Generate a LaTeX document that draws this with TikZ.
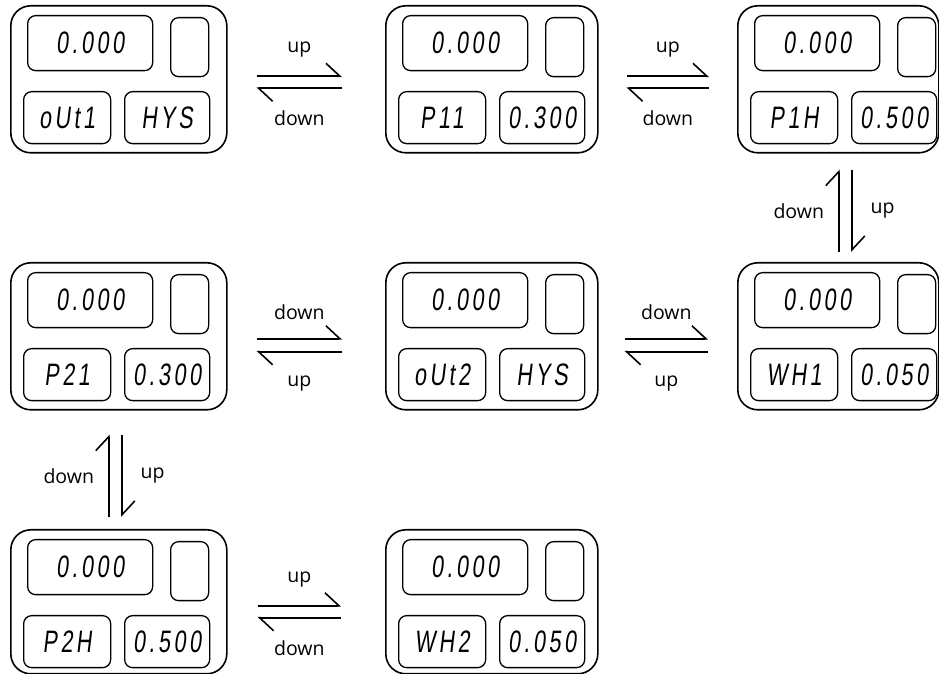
\documentclass[tikz,border=0pt]{standalone}
\usepackage{fontspec}
\setmainfont{Open Sans}
\newfontfamily\segfont[FakeSlant=0.12,FakeStretch=0.7,LetterSpace=11]{Liberation Sans}
\usetikzlibrary{arrows.meta}
\tikzset{
  panel/.style={draw, line width=1.6pt, rounded corners=20pt, anchor=north west, inner sep=0pt},
  segbox/.style={draw, line width=1.3pt, rounded corners=8pt, anchor=north west, inner sep=0pt,
    font=\segfont\fontsize{31}{31}\selectfont},
  harp/.style={line width=1.6pt, -{Straight Barb[left,length=14pt,width=26pt]}},
  lbl/.style={inner sep=0pt, font=\fontsize{19.5}{19.5}\selectfont},
}
\newcommand\devpanel[6]{%
  \node[panel, minimum width=#3pt, minimum height=#4pt] (#1) at (#2) {};
  \node[segbox, minimum width=125pt, minimum height=55pt] (#1d) at ([shift={(17pt,-10pt)}]#1.north west) {0.000};
  \node[segbox, minimum width=38pt, minimum height=59pt] (#1s) at ([shift={(160pt,-12pt)}]#1.north west) {};
  \node[segbox, minimum width=87pt, minimum height=52pt] (#1l) at ([shift={(13pt,-86pt)}]#1.north west) {#5};
  \node[segbox, minimum width=85pt, minimum height=52pt] (#1r) at ([shift={(114pt,-86pt)}]#1.north west) {#6};
}
\begin{document}
\begin{tikzpicture}[x=1pt,y=1pt]
\useasboundingbox (0,0) rectangle (939,674);
% row 1
\devpanel{p1}{10,669}{216}{147}{oUt1}{HYS}
\devpanel{p2}{385,669}{212}{147}{P11}{0.300}
\devpanel{p3}{737,669}{201}{147}{P1H}{0.500}
% row 2
\devpanel{p4}{10,412}{216}{147}{P21}{0.300}
\devpanel{p5}{385,412}{212}{147}{oUt2}{HYS}
\devpanel{p6}{737,412}{201}{147}{WH1}{0.050}
% row 3
\devpanel{p7}{10,145}{216}{144}{P2H}{0.500}
\devpanel{p8}{385,145}{212}{144}{WH2}{0.050}

% row 1 arrows
\draw[harp] ([xshift=29pt,yshift=3pt]p1.east) -- ([xshift=-43pt,yshift=3pt]p2.west)
  node[lbl, midway, above=18pt] {up};
\draw[harp] ([xshift=-43pt,yshift=-9pt]p2.west) -- ([xshift=29pt,yshift=-9pt]p1.east)
  node[lbl, midway, below=22pt] {down};
\draw[harp] ([xshift=28pt,yshift=3pt]p2.east) -- ([xshift=-28pt,yshift=3pt]p3.west)
  node[lbl, midway, above=18pt] {up};
\draw[harp] ([xshift=-28pt,yshift=-9pt]p3.west) -- ([xshift=28pt,yshift=-9pt]p2.east)
  node[lbl, midway, below=22pt] {down};

% col 3 vertical
\draw[harp] ([xshift=0.5pt,yshift=10pt]p6.north) -- ([xshift=0.5pt,yshift=-16pt]p3.south)
  node[lbl, midway, left=14pt] {down};
\draw[harp] ([xshift=13.5pt,yshift=-16pt]p3.south) -- ([xshift=13.5pt,yshift=10pt]p6.north)
  node[lbl, midway, right=18pt] {up};

% row 2 arrows
\draw[harp] ([xshift=29pt,yshift=-2.5pt]p4.east) -- ([xshift=-43pt,yshift=-2.5pt]p5.west)
  node[lbl, midway, above=18pt] {down};
\draw[harp] ([xshift=-43pt,yshift=-15.5pt]p5.west) -- ([xshift=29pt,yshift=-15.5pt]p4.east)
  node[lbl, midway, below=23pt] {up};
\draw[harp] ([xshift=26pt,yshift=-2.5pt]p5.east) -- ([xshift=-29pt,yshift=-2.5pt]p6.west)
  node[lbl, midway, above=18pt] {down};
\draw[harp] ([xshift=-29pt,yshift=-15.5pt]p6.west) -- ([xshift=26pt,yshift=-15.5pt]p5.east)
  node[lbl, midway, below=23pt] {up};

% col 1 vertical
\draw[harp] ([xshift=-10pt,yshift=12pt]p7.north) -- ([xshift=-10pt,yshift=-24pt]p4.south)
  node[lbl, midway, left=14pt] {down};
\draw[harp] ([xshift=3pt,yshift=-24pt]p4.south) -- ([xshift=3pt,yshift=12pt]p7.north)
  node[lbl, midway, right=18pt] {up};

% row 3 arrows
\draw[harp] ([xshift=30pt,yshift=-4pt]p7.east) -- ([xshift=-44pt,yshift=-4pt]p8.west)
  node[lbl, midway, above=18pt] {up};
\draw[harp] ([xshift=-44pt,yshift=-16pt]p8.west) -- ([xshift=30pt,yshift=-16pt]p7.east)
  node[lbl, midway, below=22pt] {down};
\end{tikzpicture}
\end{document}
